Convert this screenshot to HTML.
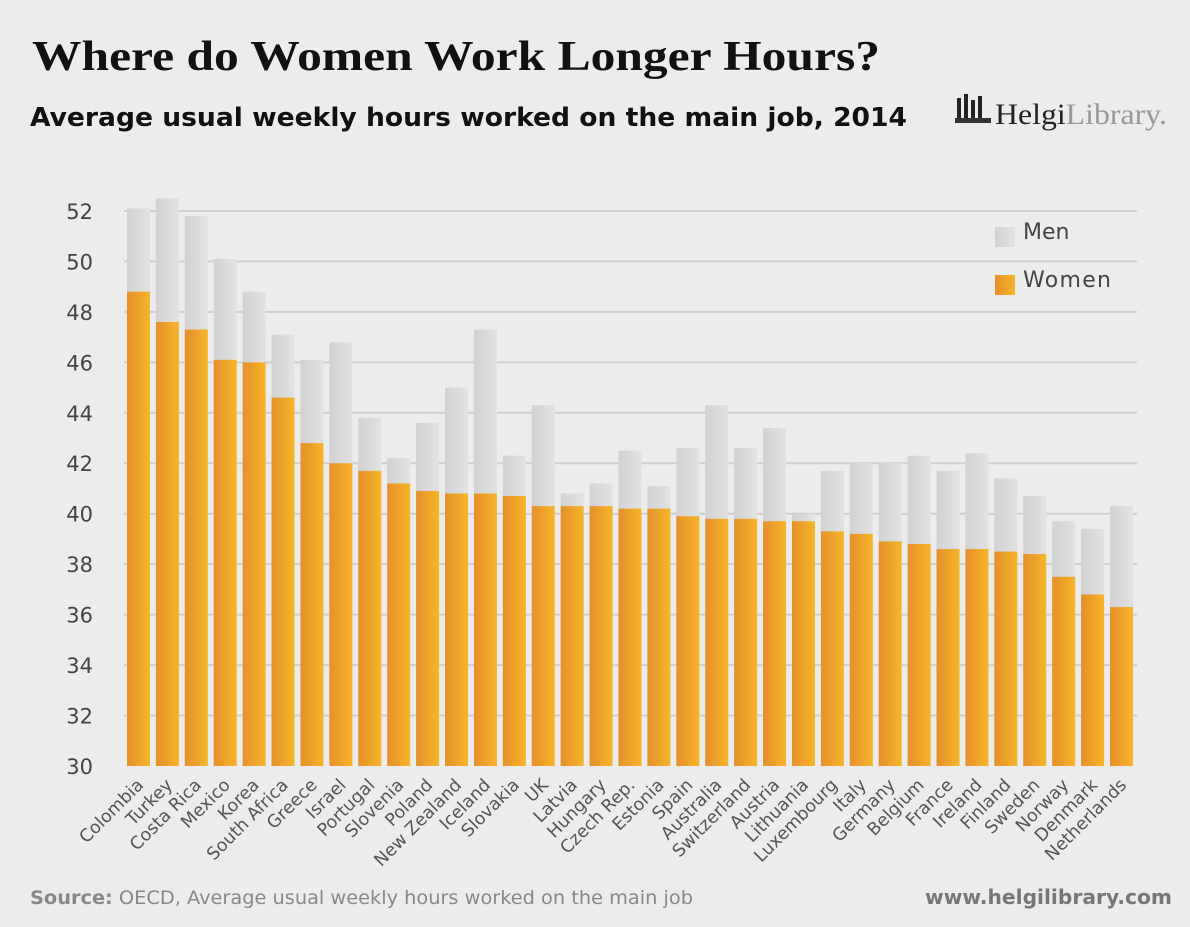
<!DOCTYPE html>
<html><head><meta charset="utf-8"><style>
body{margin:0;background:#ececec;width:1190px;height:922px;overflow:hidden;font-family:"Liberation Sans","DejaVu Sans",sans-serif}
</style></head><body>
<svg width="1190" height="922" xmlns="http://www.w3.org/2000/svg" id="chart">
<defs>
<linearGradient id="og" x1="0" x2="1"><stop offset="0" stop-color="#e5902c"/><stop offset="1" stop-color="#f6b52a"/></linearGradient>
<linearGradient id="gg" x1="0" x2="1"><stop offset="0" stop-color="#d2d2d2"/><stop offset="1" stop-color="#e2e2e2"/></linearGradient>
</defs>
<rect width="1190" height="922" fill="#ececec"/>
<text x="32" y="70" font-family="Liberation Serif,serif" font-weight="bold" font-size="42" fill="#111" textLength="848" lengthAdjust="spacingAndGlyphs">Where do Women Work Longer Hours?</text>
<text x="30" y="126" font-family="DejaVu Sans,sans-serif" font-weight="bold" font-size="26" fill="#111" textLength="877" lengthAdjust="spacingAndGlyphs">Average usual weekly hours worked on the main job, 2014</text>
<g>
<rect x="957" y="98" width="4" height="22" fill="#222"/><rect x="964" y="94" width="4" height="26" fill="#222"/><rect x="971" y="100" width="4" height="20" fill="#222"/><rect x="978" y="96" width="4" height="24" fill="#222"/><rect x="955" y="118" width="36" height="5" fill="#333"/>
<text x="995" y="124" font-family="Liberation Serif,serif" font-size="30" fill="#222" textLength="172" lengthAdjust="spacingAndGlyphs">Helgi<tspan fill="#999">Library.</tspan></text>
</g>
<g id="grid"></g><g id="bars"></g><g id="labels"></g>
<g>
<rect x="995" y="227" width="20" height="20" fill="url(#gg)"/>
<text x="1023" y="239" font-family="DejaVu Sans,sans-serif" font-size="22" fill="#444">Men</text>
<rect x="995" y="275" width="20" height="20" fill="url(#og)"/>
<text x="1023" y="287" font-family="DejaVu Sans,sans-serif" font-size="22" fill="#444" textLength="88">Women</text>
</g>
<text x="30" y="904" font-family="DejaVu Sans,sans-serif" font-size="19" fill="#888" textLength="663" lengthAdjust="spacingAndGlyphs"><tspan font-weight="bold">Source:</tspan> OECD, Average usual weekly hours worked on the main job</text>
<text x="925" y="904" font-family="DejaVu Sans,sans-serif" font-size="20" font-weight="bold" fill="#777" textLength="247" lengthAdjust="spacingAndGlyphs">www.helgilibrary.com</text>
</svg>
<script>
const countries=["Colombia","Turkey","Costa Rica","Mexico","Korea","South Africa","Greece","Israel","Portugal","Slovenia","Poland","New Zealand","Iceland","Slovakia","UK","Latvia","Hungary","Czech Rep.","Estonia","Spain","Australia","Switzerland","Austria","Lithuania","Luxembourg","Italy","Germany","Belgium","France","Ireland","Finland","Sweden","Norway","Denmark","Netherlands"];
const men=[52.1,52.5,51.8,50.1,48.8,47.1,46.1,46.8,43.8,42.2,43.6,45.0,47.3,42.3,44.3,40.8,41.2,42.5,41.1,42.6,44.3,42.6,43.4,40.0,41.7,42.0,42.0,42.3,41.7,42.4,41.4,40.7,39.7,39.4,40.3];
const women=[48.8,47.6,47.3,46.1,46.0,44.6,42.8,42.0,41.7,41.2,40.9,40.8,40.8,40.7,40.3,40.3,40.3,40.2,40.2,39.9,39.8,39.8,39.7,39.7,39.3,39.2,38.9,38.8,38.6,38.6,38.5,38.4,37.5,36.8,36.3];
const yTicks=[30,32,34,36,38,40,42,44,46,48,50,52];
const NS="http://www.w3.org/2000/svg";
const y=v=>766-(v-30)*25.23;
const x0=127,pitch=(1110-127)/(countries.length-1),bw=23;
const xs=i=>x0+i*pitch;
function mk(t,a,p){const e=document.createElementNS(NS,t);for(const k in a)e.setAttribute(k,a[k]);p.appendChild(e);return e;}
const g=document.getElementById('grid');
yTicks.forEach(t=>{
 if(t>30){const l=mk('line',{x1:124,x2:1137,y1:y(t),y2:y(t),stroke:'#cfcfcf','stroke-width':2},g);
 
 }
 const tx=mk('text',{x:93,y:y(t)+8,'font-size':21,'font-family':'DejaVu Sans,sans-serif',fill:'#444','text-anchor':'end'},g);tx.textContent=t;
 
 
});
const b=document.getElementById('bars'),lb=document.getElementById('labels');
countries.forEach((c,i)=>{
 const x=xs(i);
 const m=mk('rect',{x:x,y:y(men[i]),width:bw,height:y(30)-y(men[i]),fill:'url(#gg)'},b);
 
 
 const w=mk('rect',{x:x,y:y(women[i]),width:bw,height:y(30)-y(women[i]),fill:'url(#og)'},b);
 
 
 const cx=x+bw/2+6,cy=786;
 const t=mk('text',{x:cx,y:cy,'font-size':17.5,'font-family':'DejaVu Sans,sans-serif',fill:'#555','text-anchor':'end',transform:`rotate(-45 ${cx} ${cy})`},lb);
 t.textContent=c;
 
 
});
</script>
</body></html>
